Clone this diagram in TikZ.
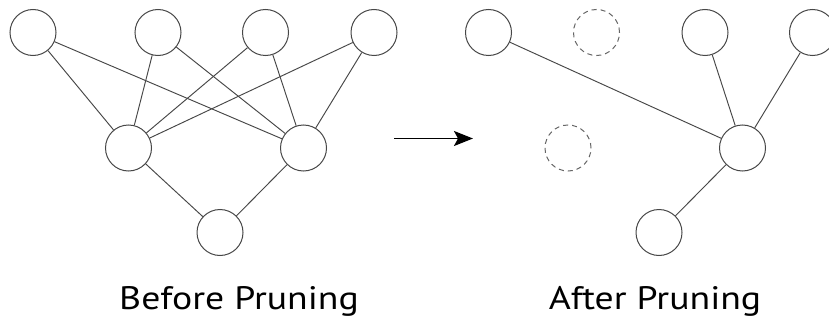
\documentclass[tikz,border=0pt]{standalone}
\usepackage{fontspec}
\setmainfont{PT Sans}
\usetikzlibrary{arrows.meta}
\begin{document}
\begin{tikzpicture}[x=1pt,y=-1pt,
  neuron/.style={circle,draw=black!72,line width=1pt,minimum size=46pt,inner sep=0pt},
  pruned/.style={neuron,draw=black!60,dash pattern=on 5pt off 4pt},
  link/.style={draw=black!72,line width=0.95pt},
  lbl/.style={font=\fontsize{32.5}{36}\selectfont,inner sep=0pt,anchor=base}]
\useasboundingbox (0,0) rectangle (829,321);
\clip (0,0) rectangle (829,321);
% before
\node[neuron] (t1) at (33,32.5) {};
\node[neuron] (t2) at (158,32.5) {};
\node[neuron] (t3) at (265.5,32.5) {};
\node[neuron] (t4) at (374,32.5) {};
\node[neuron] (ml) at (128.5,148) {};
\node[neuron] (mr) at (303.5,148) {};
\node[neuron] (b) at (220,232.5) {};
\foreach \s in {t1,t2,t3,t4}{
  \draw[link] (\s) -- (ml);
  \draw[link] (\s) -- (mr);
}
\draw[link] (ml) -- (b);
\draw[link] (mr) -- (b);
% arrow
\coordinate (as) at (394,138.5);
\coordinate (ae) at (473,138.5);
\draw[line width=1.8pt,-{Stealth[length=19pt,width=15pt,inset=4pt]}] (as) -- (ae);
% after
\node[neuron] (a1) at (488.5,32.5) {};
\node[pruned] (a2) at (596.5,32.5) {};
\node[neuron] (a3) at (705,32.5) {};
\node[neuron] (a4) at (812.5,32.5) {};
\node[pruned] (am) at (568,148) {};
\node[neuron] (ar) at (742.5,148) {};
\node[neuron] (ab) at (659,232.5) {};
\draw[link] (a1) -- (ar);
\draw[link] (a3) -- (ar);
\draw[link] (a4) -- (ar);
\draw[link] (ar) -- (ab);
% labels
\node[lbl] (lb) at (239,309) {\scalebox{1.16}[1]{Before Pruning}};
\node[lbl] (la) at (655,309) {\scalebox{1.16}[1]{After Pruning}};
\end{tikzpicture}
\end{document}
